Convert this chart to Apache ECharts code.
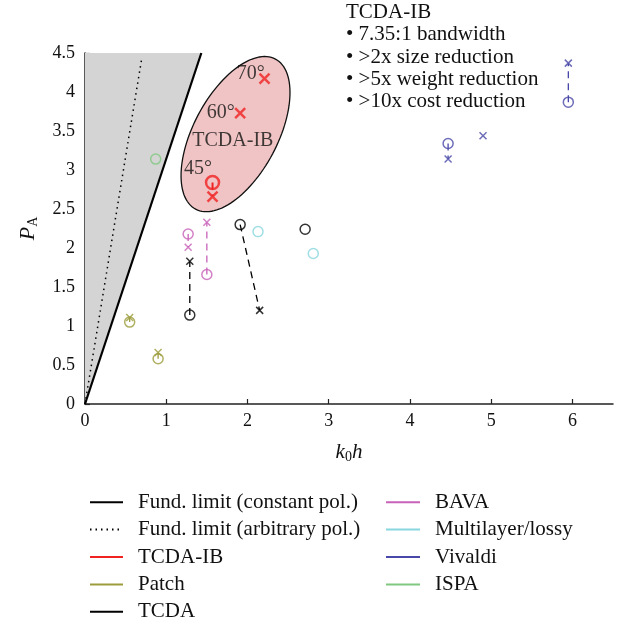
<!DOCTYPE html>
<html><head><meta charset="utf-8">
<script src="https://cdn.jsdelivr.net/npm/echarts@6/dist/echarts.min.js"></script>
<style>html,body{margin:0;padding:0;background:#fff}#c{width:626px;height:623px}</style>
</head><body><div id="c"></div>
<script>
// ---- data ----
const xTicks = [0, 1, 2, 3, 4, 5, 6];
const limitConstant = [[0, 0], [1.432, 4.5]];      // Fund. limit (constant pol.)
const limitArbitrary = [[0, 0], [0.697, 4.42]];    // Fund. limit (arbitrary pol.)
const forbiddenRegion = [[0, 0], [1.432, 4.5], [0, 4.5]];

const tcdaIbCircles = [[1.57, 2.84]];
const tcdaIbCrosses = [[1.57, 2.66], [1.91, 3.73], [2.21, 4.17]];
const tcdaIbLinks = [[[1.57, 2.84], [1.57, 2.66]]];

const patchCircles = [[0.55, 1.05], [0.90, 0.58]];
const patchCrosses = [[0.55, 1.11], [0.90, 0.66]];
const patchLinks = [[[0.55, 1.05], [0.55, 1.11]], [[0.90, 0.58], [0.90, 0.66]]];

const tcdaCircles = [[1.29, 1.14], [1.91, 2.30], [2.71, 2.24]];
const tcdaCrosses = [[1.29, 1.83], [2.15, 1.20]];
const tcdaLinks = [[[1.29, 1.14], [1.29, 1.83]], [[1.91, 2.30], [2.15, 1.20]]];

const bavaCircles = [[1.27, 2.18], [1.50, 1.66]];
const bavaCrosses = [[1.27, 2.01], [1.50, 2.33]];
const bavaLinks = [[[1.27, 2.18], [1.27, 2.01]], [[1.50, 1.66], [1.50, 2.33]]];

const multilayerCircles = [[2.13, 2.21], [2.81, 1.93]];

const vivaldiCircles = [[4.47, 3.34], [5.95, 3.87]];
const vivaldiCrosses = [[4.47, 3.14], [4.90, 3.44], [5.95, 4.37]];
const vivaldiLinks = [[[4.47, 3.34], [4.47, 3.14]], [[5.95, 3.87], [5.95, 4.37]]];

const ispaCircles = [[0.87, 3.14]];

const ellipseCenter = [1.853, 3.46];
const annotations = [
  { name: '70°', value: [2.04, 4.24] },
  { name: '60°', value: [1.67, 3.74] },
  { name: 'TCDA-IB', value: [1.82, 3.38] },
  { name: '45°', value: [1.39, 3.01] }
];
const infoLines = ['TCDA-IB', '• 7.35:1 bandwidth', '• >2x size reduction', '• >5x weight reduction', '• >10x cost reduction'];

// ---- chart ----
const FONT = '"Liberation Serif", "DejaVu Serif", serif';
const CROSS = 'path://M0,0L10,10M10,0L0,10';
const series = [];

series.push({
  type: 'custom', name: '_region', silent: true, z: 1, data: [0],
  renderItem: function (params, api) {
    return { type: 'polygon', shape: { points: forbiddenRegion.map(p => api.coord(p)) }, style: { fill: '#d4d4d4' } };
  }
});
series.push({
  type: 'custom', name: '_ellipse', silent: true, z: 2, data: [ellipseCenter],
  renderItem: function (params, api) {
    const c = api.coord([api.value(0), api.value(1)]);
    const a = 85, b = 42, th = 62 * Math.PI / 180, pts = [];
    for (let i = 0; i < 120; i++) {
      const t = i / 120 * 2 * Math.PI;
      const ex = a * Math.cos(t), ey = b * Math.sin(t);
      pts.push([c[0] + ex * Math.cos(th) - ey * Math.sin(th), c[1] - (ex * Math.sin(th) + ey * Math.cos(th))]);
    }
    return { type: 'polygon', shape: { points: pts }, style: { fill: '#f0c4c4', stroke: '#111', lineWidth: 1.3 } };
  }
});
series.push({ type: 'line', name: 'Fund. limit (constant pol.)', data: limitConstant, symbol: 'none', z: 3,
  lineStyle: { color: '#000', width: 2.2 }, itemStyle: { color: '#000' } });
series.push({ type: 'line', name: 'Fund. limit (arbitrary pol.)', data: limitArbitrary, symbol: 'none', z: 3,
  lineStyle: { color: '#000', width: 1.5, type: [1.5, 4] }, itemStyle: { color: '#000' } });

function group(name, color, legendWidth, circles, crosses, links, opts) {
  opts = opts || {};
  series.push({ type: 'line', name: name, data: [], symbol: 'none', lineStyle: { color: color, width: legendWidth }, itemStyle: { color: color } });
  (links || []).forEach(function (l) {
    series.push({ type: 'line', name: name, data: l, symbol: 'none', z: 4,
      lineStyle: { color: color, width: opts.linkWidth || 1.3, type: [7, 5] } });
  });
  if (circles && circles.length) series.push({ type: 'scatter', name: name, data: circles, symbol: 'circle', z: 5,
    symbolSize: opts.circleSize || 10, itemStyle: { color: 'rgba(0,0,0,0)', borderColor: color, borderWidth: opts.stroke || 1.5 } });
  if (crosses && crosses.length) series.push({ type: 'scatter', name: name, data: crosses, symbol: CROSS, z: 5,
    symbolSize: opts.crossSize || 7, itemStyle: { color: 'rgba(0,0,0,0)', borderColor: color, borderWidth: opts.stroke || 1.5 } });
}
group('TCDA-IB', '#f02222', 2, tcdaIbCircles, tcdaIbCrosses, tcdaIbLinks, { circleSize: 13, crossSize: 10, stroke: 2.5, linkWidth: 2 });
group('Patch', '#9c9c3c', 2, patchCircles, patchCrosses, patchLinks);
group('TCDA', '#000000', 1.3, tcdaCircles, tcdaCrosses, tcdaLinks);
group('BAVA', '#c862b8', 2, bavaCircles, bavaCrosses, bavaLinks);
group('Multilayer/lossy', '#88d6de', 2, multilayerCircles, [], []);
group('Vivaldi', '#4848a8', 2, vivaldiCircles, vivaldiCrosses, vivaldiLinks);
group('ISPA', '#80c880', 2, ispaCircles, [], []);

series.push({ type: 'scatter', name: '_ann', data: annotations, symbolSize: 1, z: 6, silent: true,
  itemStyle: { color: 'rgba(0,0,0,0)' },
  label: { show: true, position: 'inside', formatter: '{b}', color: '#111', fontFamily: FONT, fontSize: 20 } });

const chart = echarts.init(document.getElementById('c'));
const hiddenSymbol = { opacity: 0, color: 'rgba(0,0,0,0)', borderColor: 'rgba(0,0,0,0)', borderWidth: 0 };
chart.setOption({
  animation: false,
  backgroundColor: '#fff',
  grid: { left: 85, right: 13, top: 53, bottom: 219, containLabel: false },
  xAxis: {
    type: 'value', min: 0, max: 6.5, interval: 1,
    name: '{i|k}{s|0}{i|h}', nameLocation: 'middle', nameGap: 36,
    nameTextStyle: { rich: {
      i: { fontFamily: FONT, fontSize: 21, fontStyle: 'italic', color: '#111' },
      s: { fontFamily: FONT, fontSize: 14, color: '#111', padding: [10, 0, 0, 0] } } },
    splitLine: { show: false },
    axisLine: { lineStyle: { color: '#222', width: 1.5 } },
    axisTick: { inside: true, length: 5, customValues: xTicks, lineStyle: { color: '#222', width: 1.2 } },
    axisLabel: { customValues: xTicks, margin: 8, fontFamily: FONT, fontSize: 18, color: '#111' }
  },
  yAxis: {
    type: 'value', min: 0, max: 4.5, interval: 0.5,
    name: '{i|P}{s|A}', nameLocation: 'middle', nameGap: 45, nameRotate: 90,
    nameTextStyle: { rich: {
      i: { fontFamily: FONT, fontSize: 22, fontStyle: 'italic', color: '#111' },
      s: { fontFamily: FONT, fontSize: 14, color: '#111', padding: [10, 0, 0, 0] } } },
    splitLine: { show: false },
    axisLine: { show: true, lineStyle: { color: '#222', width: 1.5 } },
    axisTick: { show: true, inside: true, length: 5, lineStyle: { color: '#222', width: 1.2 } },
    axisLabel: { margin: 10, fontFamily: FONT, fontSize: 18, color: '#111' }
  },
  legend: [
    { orient: 'vertical', left: 89, top: 491.7, padding: 0, itemWidth: 33, itemHeight: 14, itemGap: 6.4,
      itemStyle: hiddenSymbol,
      data: ['Fund. limit (constant pol.)', 'Fund. limit (arbitrary pol.)', 'TCDA-IB', 'Patch', 'TCDA'],
      textStyle: { fontFamily: FONT, fontSize: 21, color: '#111', lineHeight: 20, padding: [0, 0, 0, 10] }, selectedMode: false },
    { orient: 'vertical', left: 385, top: 491.7, padding: 0, itemWidth: 34, itemHeight: 14, itemGap: 6.4,
      itemStyle: hiddenSymbol,
      data: ['BAVA', 'Multilayer/lossy', 'Vivaldi', 'ISPA'],
      textStyle: { fontFamily: FONT, fontSize: 21, color: '#111', lineHeight: 20, padding: [0, 0, 0, 10] }, selectedMode: false }
  ],
  graphic: [{
    type: 'text', left: 346, top: 1.5, silent: true,
    style: { text: infoLines.join('\n'), font: '21px ' + FONT, fill: '#111', lineHeight: 22.3 }
  }],
  series: series
});
</script></body></html>
